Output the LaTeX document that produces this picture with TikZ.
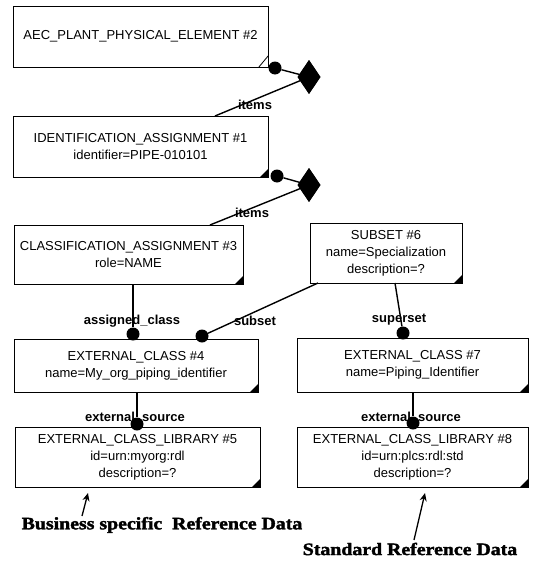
\documentclass[tikz,border=0pt]{standalone}
\usepackage{fontspec}
\setmainfont{Liberation Sans}
\newfontfamily\notefont[FakeStretch=1.14,FakeBold=2]{Liberation Serif}
\usetikzlibrary{shapes.geometric,arrows.meta}

\tikzset{
  entity/.style={draw, line width=1pt, inner sep=0pt, align=center,
    font=\fontsize{13}{17}\selectfont},
  rolelabel/.style={font=\fontsize{13}{13}\selectfont\bfseries, inner sep=0pt},
  joint/.style={circle, fill, inner sep=0pt, minimum size=13pt},
  aggr/.style={diamond, fill, inner sep=0pt, minimum width=23pt, minimum height=34pt},
  link/.style={line width=1.4pt},
  note/.style={font=\notefont\bfseries\fontsize{17.4}{17.4}\selectfont, inner sep=0pt},
  pointer/.style={-{Stealth[length=8pt,width=7pt]}, line width=1.3pt}
}
% filled marker in the lower right corner of an entity box
\newcommand{\cornermark}[1]{\fill (#1.south east) -- ++(-9,0) -- ++(9,-9) -- cycle;}

\begin{document}
\begin{tikzpicture}[x=1pt,y=-1pt]
\useasboundingbox (0,0) rectangle (540,562);

% entity boxes
\node[entity, minimum width=255pt, minimum height=61pt] (aec) at (140.5,36.5)
  {AEC\_PLANT\_PHYSICAL\_ELEMENT \#2};
\node[entity, minimum width=255pt, minimum height=61pt] (ident) at (140.5,146.5)
  {IDENTIFICATION\_ASSIGNMENT \#1\\identifier=PIPE-010101};
\node[entity, minimum width=229pt, minimum height=59pt] (cls) at (128.5,254.5)
  {CLASSIFICATION\_ASSIGNMENT \#3\\role=NAME};
\node[entity, minimum width=152pt, minimum height=60pt] (sub) at (386,253)
  {SUBSET \#6\\name=Specialization\\description=?};
\node[entity, minimum width=244pt, minimum height=53pt] (ec4) at (136,365.5)
  {EXTERNAL\_CLASS \#4\\name=My\_org\_piping\_identifier};
\node[entity, minimum width=231pt, minimum height=54pt] (ec7) at (412.5,365)
  {EXTERNAL\_CLASS \#7\\name=Piping\_Identifier};
\node[entity, minimum width=245pt, minimum height=60pt] (lib5) at (137.5,457)
  {EXTERNAL\_CLASS\_LIBRARY \#5\\id=urn:myorg:rdl\\description=?};
\node[entity, minimum width=231pt, minimum height=60pt] (lib8) at (412.5,457)
  {EXTERNAL\_CLASS\_LIBRARY \#8\\id=urn:plcs:rdl:std\\description=?};

% corner markers
\filldraw[fill=white, line width=0.8pt] (aec.south east) -- ++(-10,0) -- ++(10,-12) -- cycle;
\cornermark{ident}
\cornermark{cls}
\cornermark{sub}
\cornermark{ec4}
\cornermark{ec7}
\cornermark{lib5}
\cornermark{lib8}

% attachment points on box edges
\coordinate (t2) at (215,116);
\coordinate (t3) at (210,225);
\coordinate (s1) at (318,283);
\coordinate (s2) at (395,283);

% joints and aggregate diamonds
\node[joint] (j1) at (275,68) {};
\node[aggr] (d1) at (309,77) {};
\node[joint] (j2) at (277,176) {};
\node[aggr] (d2) at (309,185) {};
\node[joint] (j4a) at (133,334) {};
\node[joint] (j4b) at (202,336) {};
\node[joint] (j7) at (403,333) {};
\node[joint] (j5) at (137,424) {};
\node[joint] (j8) at (413,423) {};

% connectors
\draw[link] (j1) -- (d1.center) -- (t2);
\draw[link] (j2) -- (d2.center) -- (t3);
\draw[link] (j4a |- cls.south) -- (j4a);
\draw[link] (s1) -- (j4b);
\draw[link] (s2) -- (j7);
\draw[link] (j5 |- ec4.south) -- (j5);
\draw[link] (j8 |- ec7.south) -- (j8);
\node[aggr] at (d1) {};
\node[aggr] at (d2) {};

% role labels
\node[rolelabel] (l1) at (255,105) {items};
\node[rolelabel] (l2) at (252,213) {items};
\node[rolelabel] (l3) at (132,321) {assigned\_class};
\node[rolelabel] (l4) at (255,321) {subset};
\node[rolelabel] (l5) at (399,320) {superset};
\node[rolelabel] (l6) at (135,418) {external\_source};
\node[rolelabel] (l7) at (411,418) {external\_source};

% annotations
\node[note] (n1) at (162,525) {Business specific\ \ Reference Data};
\node[note] (n2) at (410,549) {Standard Reference Data};
\coordinate (a1s) at (82,516);
\coordinate (a1e) at (88,493);
\coordinate (a2s) at (414,540);
\coordinate (a2e) at (425,493);
\draw[pointer] (a1s) -- (a1e);
\draw[pointer] (a2s) -- (a2e);
\end{tikzpicture}
\end{document}
